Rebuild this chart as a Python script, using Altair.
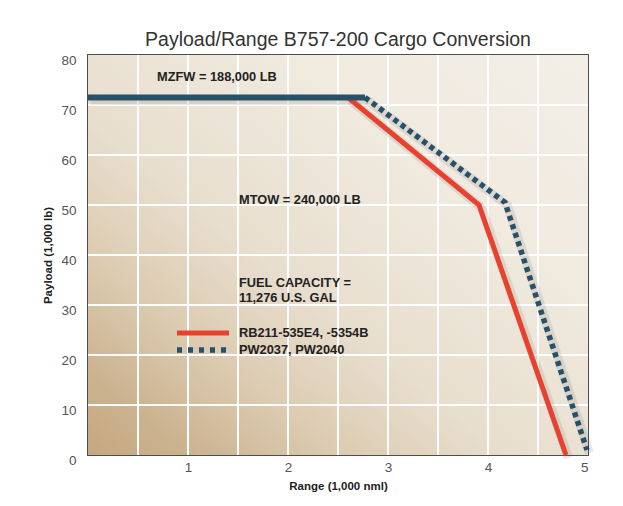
import altair as alt
import pandas as pd

FONT = "Liberation Sans, Arial, sans-serif"

# ---- data ----
x_domain = [0, 5]
y_domain = [0, 80]
x_grid = [0.5, 1.0, 1.5, 2.0, 2.5, 3.0, 3.5, 4.0, 4.5]
y_grid = [10, 20, 30, 40, 50, 60, 70]
x_labels = [1, 2, 3, 4, 5]
y_labels = [0, 10, 20, 30, 40, 50, 60, 70, 80]

mzfw_range = [0.0, 2.77]
mzfw_payload = [71.5, 71.5]
rb_range = [2.6, 3.91, 4.78]
rb_payload = [71.5, 50.0, 0.0]
pw_range = [2.77, 4.17, 4.99]
pw_payload = [71.5, 50.5, 1.0]

note_text = ["MZFW = 188,000 LB", "MTOW = 240,000 LB", "FUEL CAPACITY =", "11,276 U.S. GAL"]
note_x = [0.69, 1.51, 1.51, 1.51]
note_y = [75.6, 51.0, 34.4, 31.4]

legend_text = ["RB211-535E4, -5354B", "PW2037, PW2040"]
legend_x0 = [0.89, 0.89]
legend_x1 = [1.41, 1.41]
legend_y = [24.4, 21.0]
legend_text_x = [1.51, 1.51]

RED = "#e8412f"
BLUE = "#27506a"

xs = alt.Scale(domain=x_domain, nice=False, zero=False)
ys = alt.Scale(domain=y_domain, nice=False, zero=False)

bg_df = pd.DataFrame({"x": [x_domain[0]], "x2": [x_domain[1]], "y": [y_domain[0]], "y2": [y_domain[1]]})
gradient = alt.LinearGradient(
    gradient="linear",
    stops=[
        alt.GradientStop(color="#c5a880", offset=0),
        alt.GradientStop(color="#cbb28f", offset=0.1),
        alt.GradientStop(color="#dccbb1", offset=0.25),
        alt.GradientStop(color="#e8dece", offset=0.42),
        alt.GradientStop(color="#f0eadf", offset=0.7),
        alt.GradientStop(color="#f3efe7", offset=1),
    ],
    x1=0, y1=1, x2=1, y2=0,
)

x_axis = alt.Axis(values=x_labels, title="Range (1,000 nml)", grid=False, ticks=False, domain=False,
                  labelFont=FONT, labelFontSize=13.5, labelColor="#555555", labelPadding=5,
                  titleFont=FONT, titleFontSize=11.5, titleFontWeight="bold", titleColor="#222222",
                  titlePadding=7)
y_axis = alt.Axis(values=y_labels, title="Payload (1,000 lb)", grid=False, ticks=False, domain=False,
                  labelFont=FONT, labelFontSize=13.5, labelColor="#555555", labelPadding=12,
                  labelOffset=5,
                  titleFont=FONT, titleFontSize=11.5, titleFontWeight="bold", titleColor="#222222",
                  titlePadding=7)


def X(field):
    return alt.X(field, scale=xs, axis=x_axis)


def Y(field):
    return alt.Y(field, scale=ys, axis=y_axis)


background = alt.Chart(bg_df).mark_rect(fill=gradient).encode(
    x=X("x:Q"), x2="x2:Q", y=Y("y:Q"), y2="y2:Q",
)

vgrid = alt.Chart(pd.DataFrame({"x": x_grid})).mark_rule(color="white", strokeWidth=2).encode(x=X("x:Q"))
hgrid = alt.Chart(pd.DataFrame({"y": y_grid})).mark_rule(color="white", strokeWidth=2).encode(y=Y("y:Q"))


def line_df(xv, yv):
    return pd.DataFrame({"x": xv, "y": yv, "o": list(range(len(xv)))})


def shadow(df):
    return alt.Chart(df).transform_calculate(
        sx="datum.x + 0.025", sy="datum.y - 0.6"
    ).mark_line(color="#555555", strokeWidth=9, opacity=0.13).encode(
        x=X("sx:Q"), y=Y("sy:Q"), order="o:Q",
    )


rb_df = line_df(rb_range, rb_payload)
pw_df = line_df(pw_range, pw_payload)
mz_df = line_df(mzfw_range, mzfw_payload)

rb_line = alt.Chart(rb_df).mark_line(color=RED, strokeWidth=5).encode(
    x=X("x:Q"), y=Y("y:Q"), order="o:Q"
)
pw_line = alt.Chart(pw_df).mark_line(color=BLUE, strokeWidth=5.5, strokeDash=[5, 4], strokeCap="butt").encode(
    x=X("x:Q"), y=Y("y:Q"), order="o:Q"
)
mz_line = alt.Chart(mz_df).mark_line(color=BLUE, strokeWidth=6).encode(
    x=X("x:Q"), y=Y("y:Q"), order="o:Q"
)

notes = alt.Chart(pd.DataFrame({"x": note_x, "y": note_y, "t": note_text})).mark_text(
    align="left", baseline="middle", font=FONT, fontSize=12.8, fontWeight="bold", color="#222222"
).encode(x=X("x:Q"), y=Y("y:Q"), text="t:N")

leg_df = pd.DataFrame({"x": legend_x0, "x2": legend_x1, "y": legend_y, "t": legend_text,
                       "tx": legend_text_x, "k": ["rb", "pw"]})
leg_red = alt.Chart(leg_df).transform_filter("datum.k == 'rb'").mark_rule(color=RED, strokeWidth=5).encode(
    x=X("x:Q"), x2="x2:Q", y=Y("y:Q")
)
leg_blue = alt.Chart(leg_df).transform_filter("datum.k == 'pw'").mark_rule(
    color=BLUE, strokeWidth=5.5, strokeDash=[5, 6], strokeCap="butt"
).encode(x=X("x:Q"), x2="x2:Q", y=Y("y:Q"))
leg_text = alt.Chart(leg_df).mark_text(
    align="left", baseline="middle", font=FONT, fontSize=12.8, fontWeight="bold", color="#222222"
).encode(x=X("tx:Q"), y=Y("y:Q"), text="t:N")

chart = alt.layer(
    background, vgrid, hgrid,
    shadow(mz_df), shadow(rb_df), shadow(pw_df),
    rb_line, mz_line, pw_line,
    notes, leg_red, leg_blue, leg_text,
).properties(
    width=500, height=400,
    autosize=alt.AutoSizeParams(type="none"),
    padding={"left": 80, "top": 47, "right": 27, "bottom": 43},
    background="white",
    title=alt.TitleParams("Payload/Range B757-200 Cargo Conversion", font=FONT, fontSize=19.5,
                          fontWeight="normal", color="#333333", anchor="middle", offset=3),
).configure_view(stroke="#4d4d4d", strokeWidth=2)

chart.save("out.html", embed_options={"renderer": "svg", "actions": False})
